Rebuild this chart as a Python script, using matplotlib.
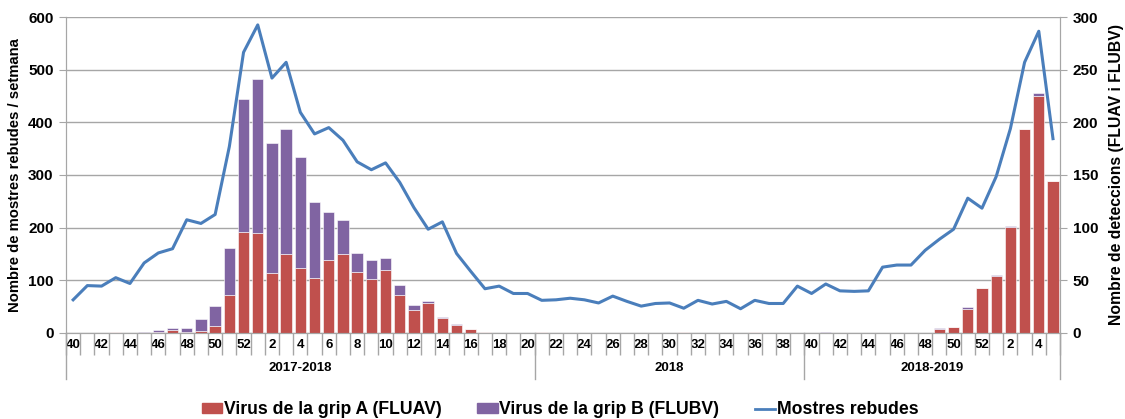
import matplotlib
matplotlib.use("Agg")
import matplotlib.pyplot as plt
from matplotlib.lines import Line2D
from matplotlib.patches import Patch
import matplotlib.transforms as mtransforms

plt.rcParams["font.family"] = ["Liberation Sans", "DejaVu Sans"]
plt.rcParams["font.weight"] = "bold"

# ── data ───────────────────────────────────────────────────────────────────────
WEEKS = [40, 41, 42, 43, 44, 45, 46, 47, 48, 49, 50, 51, 52,
         1, 2, 3, 4, 5, 6, 7, 8, 9, 10, 11, 12, 13, 14, 15, 16, 17, 18, 19, 20,
         21, 22, 23, 24, 25, 26, 27, 28, 29, 30, 31, 32, 33, 34, 35, 36, 37, 38, 39,
         40, 41, 42, 43, 44, 45, 46, 47, 48, 49, 50, 51, 52, 1, 2, 3, 4, 5]

SEASONS = ["2017-2018", "2018", "2018-2019"]
SEASON_LEN = [33, 19, 18]

MOSTRES = [63, 90, 89, 105, 94, 133, 152, 160, 215, 208, 225, 354, 533,
           585, 484, 514, 419, 378, 390, 366, 325, 310, 323, 286, 238, 197, 211,
           151, 117, 84, 89, 75, 75,
           62, 63, 66, 63, 57, 70, 60, 51, 56, 57, 47, 62, 55, 60, 46, 62, 56, 56, 89,
           75, 93, 80, 79, 80, 125, 129, 129, 157, 178, 197, 256, 237,
           297, 388, 514, 573, 369]

FLUAV = [0, 0, 0, 1, 0, 0, 1, 3, 1, 2, 7, 36, 96,
         95, 57, 75, 62, 52, 69, 75, 58, 51, 60, 36, 22, 28, 14, 8, 4, 0.5, 0, 0, 0,
         0.5, 0, 0, 0, 0, 0, 0, 0, 0, 0, 0.5, 0, 0, 0, 0, 0.5, 0, 0, 0,
         0, 0, 0, 0, 0, 0, 0, 0, 0, 4, 6, 23, 43, 54, 101, 194, 225, 144]

FLUBV = [0, 0, 0, 0, 0, 1, 2, 2, 4, 11, 19, 45, 126,
         146, 123, 119, 105, 72, 46, 32, 18, 18, 11, 10, 5, 2, 1, 1, 0, 0, 0, 0, 0,
         0, 0, 0, 0, 0, 0, 0, 0, 0, 0, 0, 0, 0, 0, 0, 0, 0, 0, 0,
         0, 0.5, 0, 0, 0, 0, 0, 0, 0, 1, 0, 1.5, 0, 1, 1, 0, 2.5, 0.5]

RED = "#C0504D"
PURPLE = "#8064A2"
BLUE = "#4A7EBB"
GRID = "#A6A6A6"

# ── figure ─────────────────────────────────────────────────────────────────────
fig = plt.figure(figsize=(11.25, 4.19), dpi=100)
ax = fig.add_axes([0.0587, 0.2053, 0.8836, 0.7541])
ax2 = ax.twinx()

x = list(range(len(WEEKS)))

# bars on right axis (detections)
ax.bar(x, FLUAV, width=0.8, color=RED, edgecolor="white", linewidth=0.4, zorder=2)
ax.bar(x, FLUBV, bottom=FLUAV, width=0.8, color=PURPLE, edgecolor="white",
       linewidth=0.4, zorder=2)
ax.set_ylim(0, 300)
ax.set_yticks(range(0, 301, 50))
ax.yaxis.tick_right()
ax.yaxis.set_label_position("right")
ax.set_ylabel("Nombre de deteccions (FLUAV i FLUBV)", fontsize=11.3,
              fontweight="bold", labelpad=8)
ax.grid(axis="y", color=GRID, linewidth=1, zorder=0)
ax.set_axisbelow(True)

# line on left axis (samples)
ax2.plot(x, MOSTRES, color=BLUE, linewidth=2.2, zorder=3)
ax2.set_ylim(0, 600)
ax2.set_yticks(range(0, 601, 100))
ax2.yaxis.tick_left()
ax2.yaxis.set_label_position("left")
ax2.set_ylabel("Nombre de mostres rebudes / setmana", fontsize=10.7,
               fontweight="bold", labelpad=4)

for a in (ax, ax2):
    a.set_xlim(-0.5, len(WEEKS) - 0.5)
    a.spines["top"].set_visible(False)
    for s in ("left", "right", "bottom"):
        a.spines[s].set_color(GRID)
    a.tick_params(axis="y", length=5, color=GRID, labelsize=11, pad=4)
    for lab in a.get_yticklabels():
        lab.set_fontweight("bold")

# x axis: week labels every two categories, ticks between categories
ax.set_xticks(x[::2])
ax.set_xticklabels([str(w) for w in WEEKS[::2]], fontsize=9.5, fontweight="bold")
ax.set_xticks([i - 0.5 for i in range(len(WEEKS) + 1)], minor=True)
ax.tick_params(axis="x", which="major", length=0, pad=4)
ax.tick_params(axis="x", which="minor", length=16, color=GRID, width=1)

# season level
trans = mtransforms.blended_transform_factory(ax.transData, ax.transAxes)
start = 0
bounds = [-0.5]
for name, n in zip(SEASONS, SEASON_LEN):
    ax.text(start + (n - 1) / 2, -0.112, name, transform=trans, ha="center",
            va="center", fontsize=9.5, fontweight="bold")
    start += n
    bounds.append(start - 0.5)
for b in bounds:
    ax.add_line(Line2D([b, b], [0, -0.146], transform=trans, color=GRID,
                       linewidth=1, clip_on=False))

# legend
handles = [Patch(color=RED), Patch(color=PURPLE), Line2D([], [], color=BLUE, lw=2)]
labels = ["Virus de la grip A (FLUAV)", "Virus de la grip B (FLUBV)", "Mostres rebudes"]
fig.legend(handles, labels, loc="center", bbox_to_anchor=(0.498, 0.022), ncol=3,
           frameon=False, prop={"size": 12.7, "weight": "bold"}, handlelength=1.15,
           handleheight=0.45, handletextpad=0.1, columnspacing=2.0)

fig.savefig("out.png", dpi=100)
